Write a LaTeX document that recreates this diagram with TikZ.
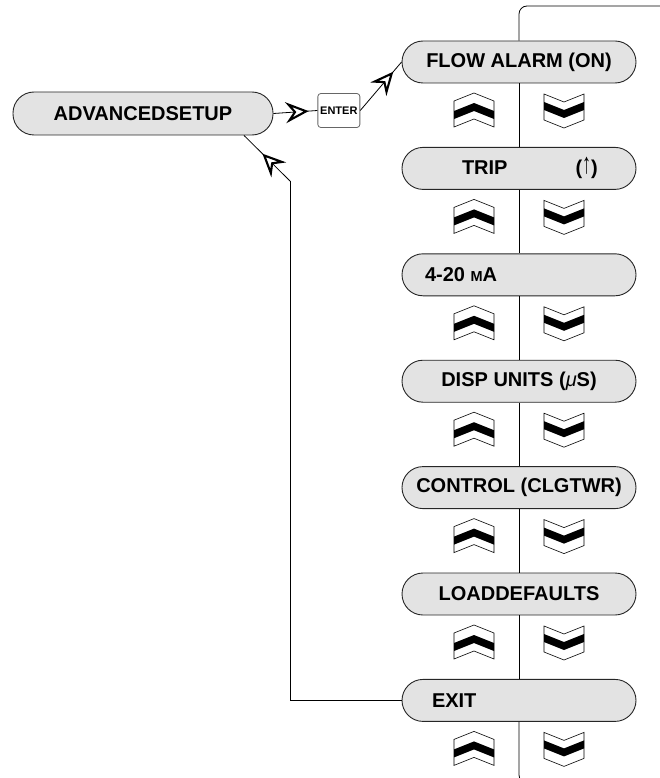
\documentclass[tikz,border=0pt]{standalone}
\usepackage{graphicx}
\usepackage{fontspec}
\setmainfont{Liberation Sans}
\usepackage{tikz}
\usetikzlibrary{positioning,calc,arrows.meta,decorations.markings}

\newcommand{\tripup}{{\mdseries\raisebox{1pt}{\scalebox{0.9}[1.45]{↑}}}}

\tikzset{
  menu/.style={draw=black!85, line width=0.9pt, fill=black!11, rounded corners=21pt, minimum width=234pt, minimum height=42pt, inner xsep=0pt, inner ysep=0pt, font=\fontsize{20}{24}\selectfont\bfseries},
  enterkey/.style={draw=black!60, line width=0.8pt, rounded corners=3pt, minimum width=42pt, minimum height=34pt, inner sep=0pt, font=\fontsize{11}{13}\selectfont\bfseries},
  link/.style={line width=0.8pt},
  midarrow/.style={link, postaction={decorate}, decoration={markings, mark=at position #1 with {\arrow[line width=2.1pt]{Stealth[length=23pt, width=21pt, inset=8pt, fill=white]}}}},
  chev/.style={line width=0.6pt, fill=white},
  upchev/.pic={\draw[chev] (0,17) -- (20,9) -- (20,-17) -- (0,-9) -- (-20,-17) -- (-20,9) -- cycle; \fill (-20,-1) -- (0,7) -- (20,-1) -- (20,-9) -- (0,-1) -- (-20,-9) -- cycle;},
  downchev/.pic={\draw[chev] (-20,17) -- (0,9) -- (20,17) -- (20,-9) -- (0,-17) -- (-20,-9) -- cycle; \fill (-20,9) -- (0,1) -- (20,9) -- (20,1) -- (0,-7) -- (-20,1) -- cycle;}
}

\begin{document}
\begin{tikzpicture}[x=1pt, y=1pt, node distance=63.5pt]
\useasboundingbox (0,0) rectangle (660,-778);
\clip (0,0) rectangle (660,-778);

% setup entry and enter key
\node[menu, minimum width=260pt, minimum height=43pt] (adv) at (143,-113.5) {ADVANCEDSETUP};
\node[enterkey, right=44pt of adv, yshift=3pt] (enter) {ENTER};

% menu column
\node[menu] (flow) at (519,-62) {FLOW ALARM (ON)};
\node[menu, below=of flow] (trip) {\makebox[234pt][l]{\hspace{60pt}TRIP\hspace{68pt}(\tripup)}};
\node[menu, below=of trip] (ma) {\makebox[234pt][l]{\hspace{23pt}4-20 {\fontsize{14.5}{14.5}\selectfont M}A}};
\node[menu, below=of ma] (disp) {DISP UNITS ({\mdseries\itshape μ}S)};
\node[menu, below=of disp] (ctrl) {CONTROL (CLGTWR)};
\node[menu, below=of ctrl] (load) {LOADDEFAULTS};
\node[menu, below=of load] (exit) {\makebox[234pt][l]{\hspace{30pt}EXIT}};

\coordinate (topend) at (670,-6); \coordinate (botend) at (670,-783);
\coordinate (ret) at (290,-181); \coordinate (advret) at ($(adv.south)+(101,0)$);

% spine
\draw[link, rounded corners=8pt] (flow.north) |- (topend);
\draw[link] (flow.south) -- (trip.north) (trip.south) -- (ma.north) (ma.south) -- (disp.north) (disp.south) -- (ctrl.north) (ctrl.south) -- (load.north) (load.south) -- (exit.north);
\draw[link, rounded corners=8pt] (exit.south) |- (botend);

% arrows
\draw[midarrow=0.8] (adv.east) -- (enter.west);
\draw[midarrow=0.8] (enter.east) -- (flow.west);
\draw[link] (exit.west) -| (ret);
\draw[midarrow=0.6] (ret) -- (advret);

% up / down keys
\pic at ($(flow)+(-45,-48)$) {upchev}; \pic at ($(flow)+(45,-49)$) {downchev};
\pic at ($(trip)+(-45,-48)$) {upchev}; \pic at ($(trip)+(45,-49)$) {downchev};
\pic at ($(ma)+(-45,-48)$) {upchev}; \pic at ($(ma)+(45,-49)$) {downchev};
\pic at ($(disp)+(-45,-48)$) {upchev}; \pic at ($(disp)+(45,-49)$) {downchev};
\pic at ($(ctrl)+(-45,-48)$) {upchev}; \pic at ($(ctrl)+(45,-49)$) {downchev};
\pic at ($(load)+(-45,-48)$) {upchev}; \pic at ($(load)+(45,-49)$) {downchev};
\pic at ($(exit)+(-45,-48)$) {upchev}; \pic at ($(exit)+(45,-49)$) {downchev};
\end{tikzpicture}
\end{document}
